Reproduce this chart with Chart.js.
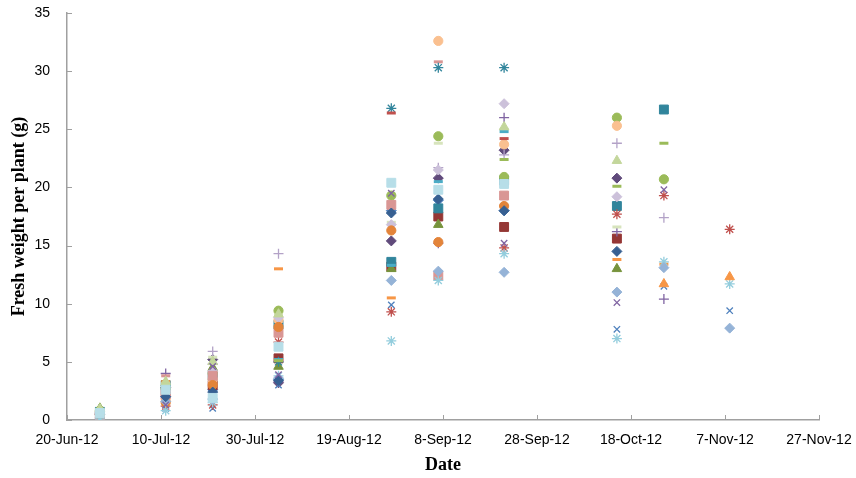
<!DOCTYPE html>
<html>
<head>
<meta charset="utf-8">
<script src="https://cdn.jsdelivr.net/npm/chart.js@4.4.1/dist/chart.umd.min.js"></script>
<style>
  html, body { margin: 0; padding: 0; background: #fff; }
  #wrap { width: 856px; height: 478px; }
</style>
</head>
<body>
<div id="wrap"><canvas id="weightChart" width="856" height="478"></canvas></div>
<script>
// sampling dates
const sampleDates = ['2012-06-27', '2012-07-11', '2012-07-21', '2012-08-04', '2012-08-28',
                     '2012-09-07', '2012-09-21', '2012-10-15', '2012-10-25', '2012-11-08'];
const startDate = '2012-06-20';
const xTickStep = 20;
const xTickMax = 160;
const yTicks = [0, 5, 10, 15, 20, 25, 30, 35];

// fresh weight per plant (g), one array per plant line
const s1  = [0.5, 2.0, 2.6, 3.5, 18.0, 18.9, 18.0, null, null, null];
const s2  = [0.4, 2.4, 3.0, 5.3, 13.2, 17.5, 16.6, 15.6, null, null];
const s3  = [1.0, 3.2, 4.5, 4.6, 13.0, 16.8, null, 13.0, null, null];
const s4  = [0.6, 2.8, 5.2, 3.2, 15.4, 20.8, 23.2, 20.8, null, null];
const s5  = [0.7, 3.0, 3.8, 8.2, 13.6, 18.2, 20.6, 18.4, 26.7, null];
const s6  = [null, 3.3, 3.2, 13.0, 10.5, null, null, 13.8, 13.4, null];
const s7  = [0.2, 4.0, 4.8, 3.3, null, 15.2, 26.0, 16.2, 10.4, null];
const s8  = [null, 3.8, 3.6, null, null, 30.8, null, null, null, null];
const s9  = [0.1, 1.9, 5.9, 14.3, null, 21.7, 22.8, 23.8, 17.4, null];
const s10 = [null, 1.0, 1.0, 3.0, 9.9, null, null, 7.8, 11.5, 9.4];
const s11 = [null, 1.2, 1.3, 6.7, 9.3, null, 14.8, 17.7, 19.3, 16.4];
const s12 = [null, null, null, 5.0, 26.8, 30.3, 30.3, null, null, null];
const s13 = [0.8, 2.7, 4.0, 9.4, 19.3, 24.4, 20.9, 26.0, 20.7, null];
const s14 = [0.5, 1.8, 3.5, 8.6, null, 32.6, 23.7, 25.3, null, null];
const s15 = [0.9, 3.1, 5.4, 9.0, 17.0, 23.8, 25.0, 16.6, null, null];
const s16 = [0.6, 2.5, 4.2, 8.8, 16.8, 21.5, 27.2, 19.2, null, null];
const s17 = [0.3, 2.2, 3.8, 7.5, 18.5, 12.4, 19.3, null, null, null];
const s18 = [null, null, null, 5.2, 13.3, 20.5, 24.8, null, null, null];
const s19 = [0.5, 1.5, 3.0, 8.0, 16.3, 15.3, 18.4, null, null, null];
const s20 = [0.1, 0.8, 1.5, 3.8, 6.8, 12.0, 14.3, 7.0, 13.6, 11.7];
const s21 = [0.6, 1.6, 1.8, 3.6, 12.0, 12.8, 12.7, 11.0, 13.1, 7.9];
const s22 = [null, null, null, 5.1, null, null, 22.4, 20.1, 23.8, null];
const s23 = [0.95, 3.3, 5.0, 9.1, null, null, 25.2, 22.3, null, null];
const s24 = [null, 2.0, 2.4, 3.4, 17.8, 19.0, 18.0, 14.5, null, null];
const s25 = [null, 1.3, 4.6, 3.9, 19.5, null, 15.2, 10.1, 19.8, null];
const s26 = [null, null, null, null, 26.4, null, 24.2, null, null, null];
const s27 = [null, null, null, null, null, null, null, null, 11.7, 12.3];
const s28 = [0.6, 2.6, 1.9, 6.3, 20.4, 19.8, 20.3, null, null, null];

const seriesValues = [s1, s2, s3, s4, s5, s6, s7, s8, s9, s10, s11, s12, s13, s14,
                      s15, s16, s17, s18, s19, s20, s21, s22, s23, s24, s25, s26, s27, s28];

// marker look for each series (Excel-ish automatic styles)
const markerColors = ['#4F81BD', '#953735', '#77933C', '#604A7B', '#31859C', '#F79646', '#8064A2',
                      '#D99694', '#B3A2C7', '#4F81BD', '#C0504D', '#31859C', '#9BBB59', '#FAC090',
                      '#D7E4BD', '#CCC1DA', '#D99694', '#4BACC6', '#E3843A', '#93CDDD', '#95B3D7',
                      '#9BBB59', '#C3D69B', '#376092', '#8064A2', '#C0504D', '#F79646', '#B7DEE8'];
const markerShapes = ['rectRot', 'rect', 'triangle', 'rectRot', 'rect', 'line', 'cross',
                      'line', 'cross', 'crossRot', 'star', 'star', 'circle', 'circle',
                      'line', 'rectRot', 'rect', 'line', 'circle', 'star', 'rectRot',
                      'line', 'triangle', 'rectRot', 'crossRot', 'line', 'triangle', 'rect'];

const shapeRadius = { circle: 4.6, rect: 6.3, rectRot: 5, triangle: 5.5, cross: 5, crossRot: 4.5, star: 5, line: 4.5 };
const shapeBorder = { circle: 1, rect: 1, rectRot: 1, triangle: 1, cross: 1.3, crossRot: 1.3, star: 1.3, line: 3 };

const monthNames = ['Jan', 'Feb', 'Mar', 'Apr', 'May', 'Jun', 'Jul', 'Aug', 'Sep', 'Oct', 'Nov', 'Dec'];
const dayMs = 86400000;
const t0 = Date.parse(startDate);

function dayOffset(d) {
    return Math.round((Date.parse(d) - t0) / dayMs);
}

function dateLabel(offset) {
    const d = new Date(t0 + offset * dayMs);
    return d.getUTCDate() + '-' + monthNames[d.getUTCMonth()] + '-' + String(d.getUTCFullYear()).slice(2);
}

// later series on top, as in the spreadsheet
const datasets = seriesValues.map((vals, i) => {
    const shape = markerShapes[i];
    return {
        label: 'Plant ' + (i + 1),
        data: vals.map((v, j) => ({ x: dayOffset(sampleDates[j]), y: v })).filter(p => p.y !== null),
        order: seriesValues.length - i,
        pointStyle: shape,
        pointRadius: shapeRadius[shape],
        pointHoverRadius: shapeRadius[shape],
        pointBorderWidth: shapeBorder[shape],
        backgroundColor: markerColors[i],
        borderColor: markerColors[i],
        showLine: false
    };
});

const axisColor = '#a0a0a0';

// tick marks drawn inside the plot, like the original
const insideTicks = {
    id: 'insideTicks',
    afterDraw(chart) {
        const c = chart.ctx;
        const xs = chart.scales.x, ys = chart.scales.y;
        const area = chart.chartArea;
        c.save();
        c.strokeStyle = axisColor;
        c.lineWidth = 1;
        c.beginPath();
        xs.ticks.forEach(t => {
            const px = Math.round(xs.getPixelForValue(t.value)) + 0.5;
            c.moveTo(px, area.bottom);
            c.lineTo(px, area.bottom - 5);
        });
        ys.ticks.forEach(t => {
            const py = Math.round(ys.getPixelForValue(t.value)) + 0.5;
            c.moveTo(area.left, py);
            c.lineTo(area.left + 5, py);
        });
        c.stroke();
        c.restore();
    }
};

const ctx = document.getElementById('weightChart').getContext('2d');
const weightChart = new Chart(ctx, {
    type: 'scatter',
    data: { datasets: datasets },
    options: {
        responsive: false,
        animation: false,
        layout: { padding: { left: 9, right: 37, top: 13, bottom: 2 } },
        plugins: {
            legend: { display: false },
            tooltip: { enabled: false }
        },
        scales: {
            x: {
                type: 'linear',
                min: 0,
                max: xTickMax,
                grid: { display: false, drawTicks: false },
                border: { color: axisColor, width: 1.5 },
                ticks: {
                    stepSize: xTickStep,
                    padding: 12,
                    color: '#000',
                    maxRotation: 0,
                    font: { family: 'Liberation Sans', size: 14 },
                    callback: v => dateLabel(v)
                },
                title: {
                    display: true,
                    text: 'Date',
                    color: '#000',
                    padding: { top: 2, bottom: 0 },
                    font: { family: 'Liberation Serif', size: 18, weight: 'bold' }
                },
                afterFit: s => {
                    s.height = 478 - 420 - 2;
                    s.paddingLeft = 0;
                    s.paddingRight = 0;
                }
            },
            y: {
                min: 0,
                max: 35,
                grid: { display: false, drawTicks: false },
                border: { color: axisColor, width: 1.5 },
                afterBuildTicks: s => { s.ticks = yTicks.map(v => ({ value: v })); },
                ticks: {
                    padding: 17,
                    color: '#000',
                    font: { family: 'Liberation Sans', size: 14 }
                },
                title: {
                    display: true,
                    text: 'Fresh weight per plant (g)',
                    color: '#000',
                    padding: { top: 0, bottom: 0 },
                    font: { family: 'Liberation Serif', size: 18, weight: 'bold' }
                },
                afterFit: s => {
                    s.width = 67 - 9;
                    s.paddingTop = 0;
                    s.paddingBottom = 0;
                }
            }
        }
    },
    plugins: [insideTicks]
});
</script>
</body>
</html>
